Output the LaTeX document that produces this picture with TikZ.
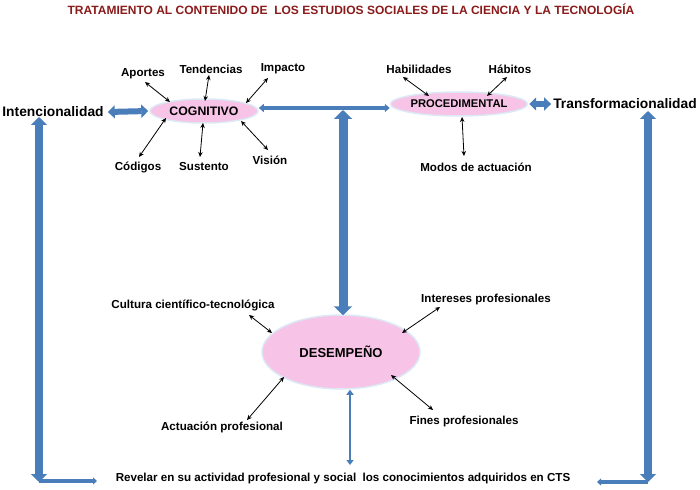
\documentclass[tikz,border=0pt]{standalone}
\usepackage{fontspec}
\setmainfont{Liberation Sans}
\usetikzlibrary{arrows.meta,calc,shapes.geometric}
\definecolor{blk}{HTML}{4A7EBB}
\definecolor{ttl}{HTML}{8B1A1A}
\definecolor{pinkf}{HTML}{F7C3E6}
\definecolor{rim}{HTML}{DCE9F5}
\begin{document}
\begin{tikzpicture}[x=1pt,y=-1pt,
  lbl/.style={font=\bfseries\fontsize{11.6}{13}\selectfont, inner sep=1pt},
  big/.style={font=\bfseries\fontsize{13.8}{16}\selectfont, inner sep=1pt},
  ttlstyle/.style={font=\bfseries\fontsize{12}{14}\selectfont, text=ttl, inner sep=1pt},
  ell/.style={ellipse, fill=pinkf, draw=rim, line width=1.5pt, inner sep=0pt},
  sm/.style={black, line width=0.8pt, {Stealth[length=5pt,width=4.5pt]}-{Stealth[length=5pt,width=4.5pt]}},
  blkw/.style={draw=blk, line width=#1}
]
\useasboundingbox (0,0) rectangle (700,489);

% title
\node[ttlstyle] (title) at (351,9) {TRATAMIENTO AL CONTENIDO DE \ LOS ESTUDIOS SOCIALES DE LA CIENCIA Y LA TECNOLOGÍA};

% ellipses
\node[ell, minimum width=108pt, minimum height=24pt, font=\bfseries\fontsize{12.3}{14}\selectfont] (cog) at (204,111) {COGNITIVO};
\node[ell, minimum width=114pt, minimum height=24pt, font=\bfseries\fontsize{11.2}{13}\selectfont] (proc) at (459,104) {PROCEDIMENTAL};
\node[ell, minimum width=158pt, minimum height=74pt, font=\bfseries\fontsize{13}{15}\selectfont] (des) at (341,352) {DESEMPEÑO};

% big side labels
\node[big] (intenc) at (53,112) {Intencionalidad};
\node[big] (transf) at (625,104) {Transformacionalidad};

% labels
\node[lbl] (aportes) at (143,74) {Aportes};
\node[lbl] (tend) at (211,69) {Tendencias};
\node[lbl] (impacto) at (283,69) {Impacto};
\node[lbl] (codigos) at (138,167) {Códigos};
\node[lbl] (sustento) at (204,167) {Sustento};
\node[lbl] (vision) at (270,160) {Visión};
\node[lbl] (hab) at (419,69) {Habilidades};
\node[lbl] (habitos) at (510,69) {Hábitos};
\node[lbl] (modos) at (476,167) {Modos de actuación};
\node[lbl] (cultura) at (193,305) {Cultura científico-tecnológica};
\node[lbl] (intereses) at (486,299) {Intereses profesionales};
\node[lbl] (actuacion) at (222,427) {Actuación profesional};
\node[lbl] (fines) at (464,421) {Fines profesionales};
\node[lbl] (revelar) at (343,478) {Revelar en su actividad profesional y social \ los conocimientos adquiridos en CTS};

% small black arrows
\draw[sm] ($(aportes)+(2,8)$) -- ($(cog)+(-34,-9)$);
\draw[sm] ($(tend)+(-2,6)$) -- ($(cog)+(1,-10)$);
\draw[sm] ($(impacto)+(-15,9)$) -- ($(cog)+(42,-8)$);
\draw[sm] ($(codigos)+(1,-10)$) -- ($(cog)+(-38,7)$);
\draw[sm] ($(sustento)+(-4,-10)$) -- ($(cog)+(-1,12)$);
\draw[sm] ($(vision)+(-2,-10)$) -- ($(cog)+(37,10)$);
\draw[sm] ($(hab)+(-16,8)$) -- ($(proc)+(-30,-8)$);
\draw[sm] ($(habitos)+(-3,8)$) -- ($(proc)+(28,-8)$);
\draw[sm] ($(modos)+(-12,-11)$) -- ($(proc)+(3,13)$);
\draw[sm] ($(cultura)+(56,10)$) -- ($(des)+(-69,-19)$);
\draw[sm] ($(intereses)+(-46,8)$) -- ($(des)+(61,-19)$);
\draw[sm] ($(actuacion)+(25,-7)$) -- ($(des)+(-57,25)$);
\draw[sm] ($(fines)+(-31,-11)$) -- ($(des)+(50,23)$);

% block arrows
\draw[blkw=6pt, {Triangle[width=13pt,length=7pt]}-{Triangle[width=13pt,length=7pt]}] ($(intenc.east)+(3,0)$) -- ($(cog.west)+(-1,0)$);
\draw[blkw=6pt, {Triangle[width=13pt,length=7pt]}-{Triangle[width=13pt,length=7pt]}] ($(proc.east)+(1,0)$) -- ($(transf.west)+(-1,0)$);

% connecting line cognitivo - procedimental
\draw[blkw=3.5pt, {Triangle[width=8pt,length=5pt]}-{Triangle[width=8pt,length=5pt]}] ($(cog.east)+(0,-3)$) -- ($(proc.west)+(0,4)$);

% central vertical
\coordinate (jn) at (343,110);
\draw[blkw=9pt, {Triangle[width=18pt,length=9pt]}-{Triangle[width=18pt,length=9pt]}] (jn) -- ($(jn |- des.north)+(0,1)$);

% small vertical below desempeño
\coordinate (sv) at (350,465);
\draw[blkw=2.5pt, {Triangle[width=7pt,length=5pt]}-{Triangle[width=7pt,length=5pt]}] (sv |- des.south) -- (sv);

% left frame arrow
\coordinate (lt) at (39,117);
\coordinate (lb) at (39,482);
\coordinate (le) at (97,481);
\draw[blkw=8pt, {Triangle[width=16pt,length=8pt]}-{Triangle[width=16pt,length=8pt]}] (lt) -- (lb);
\draw[blkw=4pt, -{Triangle[width=7pt,length=4pt]}] (39,481) -- (le);

% right frame arrow
\coordinate (rt) at (648,111);
\coordinate (rb) at (648,482);
\coordinate (re) at (597,482);
\draw[blkw=8pt, {Triangle[width=16pt,length=8pt]}-{Triangle[width=16pt,length=8pt]}] (rt) -- (rb);
\draw[blkw=4pt, -{Triangle[width=7pt,length=4pt]}] (648,482) -- (re);
\end{tikzpicture}
\end{document}
